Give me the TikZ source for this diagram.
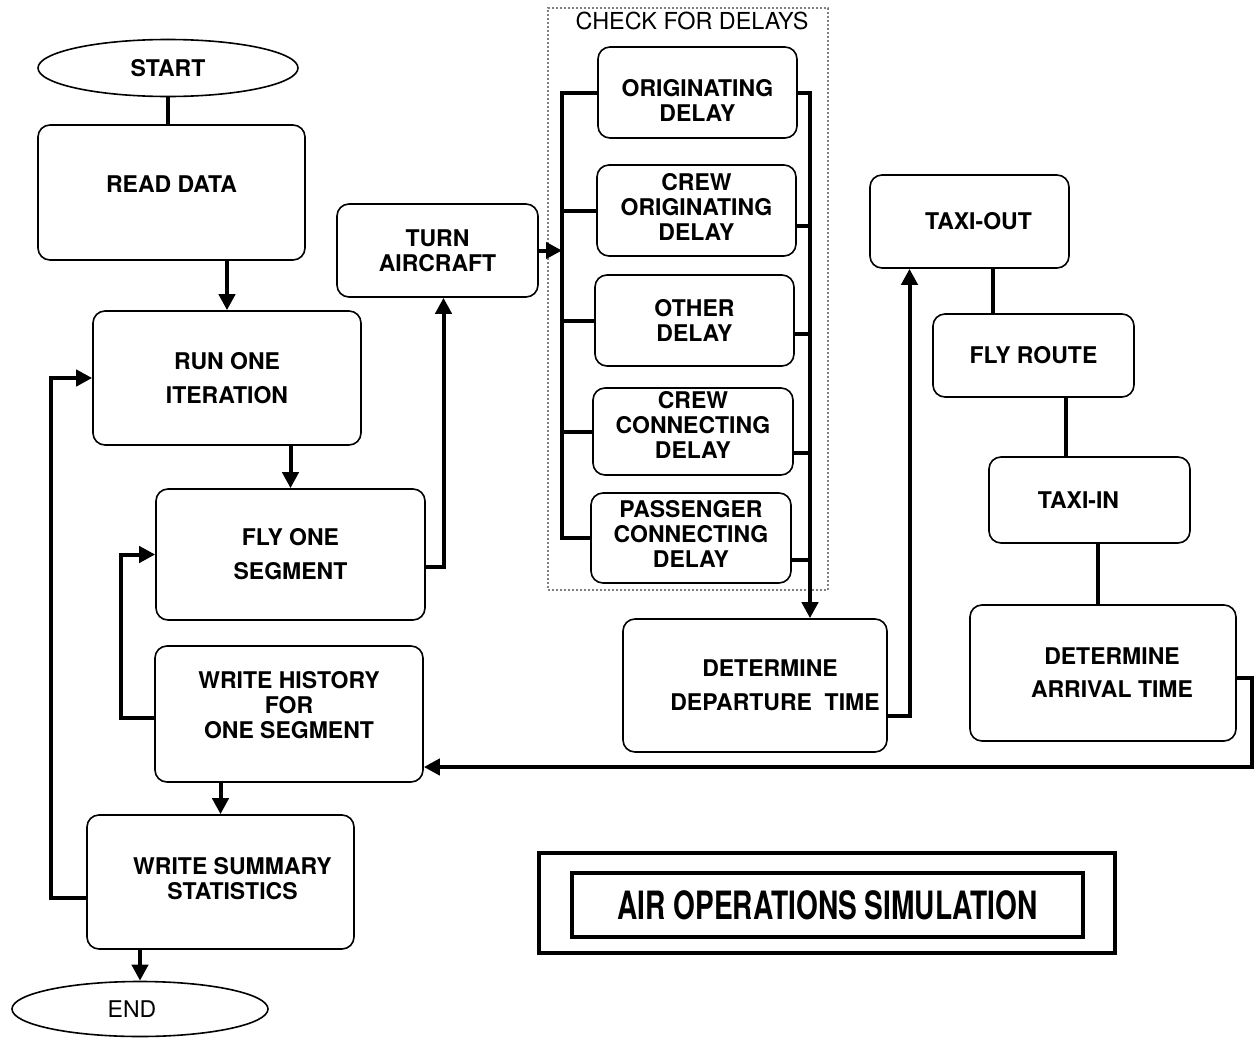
\documentclass[tikz,border=0pt]{standalone}
\usepackage{graphicx}
\usepackage{fontspec}
\setmainfont{TeX Gyre Heros}
\usetikzlibrary{shapes.geometric,arrows.meta,calc}
\begin{document}
\begin{tikzpicture}[x=0.5pt,y=-0.5pt,
  box/.style={draw, line width=0.8pt, rounded corners=6pt, align=center,
    font=\fontsize{11.5}{12.5}\selectfont\bfseries, inner sep=0pt},
  sz/.style 2 args={minimum width=#1*0.5pt, minimum height=#2*0.5pt},
  term/.style={draw, ellipse, line width=0.8pt, inner sep=0pt,
    font=\fontsize{11.5}{12.5}\selectfont},
  conn/.style={line width=2pt},
  arr/.style={conn, -{Triangle[length=8pt,width=8pt]}},
]
\useasboundingbox (0,0) rectangle (1260,1039);

% left column
\node[term, sz={260}{57}, font=\fontsize{11.5}{12.5}\selectfont\bfseries] (start) at (168,68) {START};
\node[box, sz={267}{135}, text depth=8pt] (read) at (171.5,192.5) {READ DATA};
\node[box, sz={268}{134}] (run) at (227,378) {RUN ONE\\[4.5pt]ITERATION};
\node[box, sz={269}{131}] (fly) at (290.5,554.5) {FLY ONE\\[4.5pt]SEGMENT};
\node[box, sz={268}{136}, text depth=9pt] (wh) at (289,714) {WRITE HISTORY\\FOR\hspace*{30pt}\\ONE SEGMENT};
\node[box, sz={267}{134}, text depth=4pt] (ws) at (220.5,882) {\hspace*{12pt}WRITE SUMMARY\\\hspace*{12pt}STATISTICS};
\node[term, sz={256}{55}] (end) at (140,1009) {END\hspace*{8pt}};

% turn aircraft
\node[box, sz={201}{93}] (turn) at (437.5,250.5) {TURN\\AIRCRAFT};

% delays group
\node[draw=gray, densely dotted, line width=1pt, sz={280}{582}, inner sep=0pt] (frame) at (688,299) {};
\node[font=\fontsize{11.7}{13}\selectfont, inner sep=1pt] (checkt) at (692,21) {CHECK FOR DELAYS};
\node[box, sz={199}{91}] (orig) at (697.5,92.5) {\rule{0pt}{16pt}ORIGINATING\\DELAY};
\node[box, sz={199}{91}, text depth=4pt] (corig) at (696.5,210.5) {CREW\\ORIGINATING\\DELAY};
\node[box, sz={199}{91}] (other) at (694.5,320.5) {OTHER\\DELAY};
\node[box, sz={200}{87}, text depth=7pt] (cconn) at (693,431.5) {CREW\\CONNECTING\\DELAY};
\node[box, sz={200}{90}, text depth=4pt] (pass) at (691,538) {PASSENGER\\CONNECTING\\DELAY};

% right part
\node[box, sz={264}{133}] (dd) at (755,685.5) {\hspace*{15pt}DETERMINE\\[4.5pt]\hspace*{20pt}DEPARTURE\ \ TIME};
\node[box, sz={199}{93}] (tout) at (969.5,221.5) {\hspace*{9pt}TAXI-OUT};
\node[box, sz={201}{83}] (fr) at (1033.5,355.5) {FLY ROUTE};
\node[box, sz={201}{86}] (tin) at (1089.5,500) {TAXI-IN\hspace*{11pt}};
\node[box, sz={266}{136}] (dat) at (1103,673) {\hspace*{9pt}DETERMINE\\[4pt]\hspace*{9pt}ARRIVAL TIME};

% title
\node[draw, line width=1.6pt, sz={576}{100}, inner sep=0pt] (tframe) at (827,903) {};
\node[draw, line width=1.6pt, sz={511}{64}, inner sep=0pt,
  font=\fontsize{19.5}{22}\selectfont\bfseries] (title) at (827.5,905)
  {\scalebox{0.72}[1]{AIR OPERATIONS SIMULATION}};

% helper coordinates
\coordinate (lbus) at (562,0);
\coordinate (rbus) at (810,0);
\coordinate (c1) at (993,0);
\coordinate (c2) at (1066,0);
\coordinate (c3) at (1098,0);

% left column connectors
\draw[conn] (start.south) -- (start.south |- read.north);
\draw[arr] (run.north |- read.south) -- (run.north);
\draw[arr] (fly.north |- run.south) -- (fly.north);
\draw[arr] (ws.north |- wh.south) -- (ws.north);
\draw[arr] (end.north |- ws.south) -- (end.north);
\draw[arr] ($(ws.west)+(0,16)$) -- ++(-35,0) |- (run.west);
\draw[arr] ($(wh.west)+(0,4)$) -- ++(-33,0) |- (fly.west);
\draw[arr] ($(fly.east)+(0,12)$) -| ($(turn.south)+(6,0)$);

% delays buses
\draw[arr] (turn.east) -- (turn.east -| lbus);
\draw[conn] (orig.west) -- (orig.west -| lbus) -- (pass.west -| lbus) -- (pass.west);
\foreach \b in {corig,other,cconn} \draw[conn] (\b.west -| lbus) -- (\b.west);
\draw[arr] (orig.east) -| (dd.north -| rbus);
\coordinate (r2) at ($(corig.east)+(0,15)$);
\coordinate (r3) at ($(other.east)+(0,13)$);
\coordinate (r4) at ($(cconn.east)+(0,21)$);
\coordinate (r5) at ($(pass.east)+(0,22)$);
\foreach \r in {r2,r3,r4,r5} \draw[conn] (\r) -- (\r -| rbus);

% right column connectors
\coordinate (d1) at ($(dd.east)+(0,30)$);
\draw[arr] (d1) -| ($(tout.south)+(-60,0)$);
\draw[conn] (c1 |- tout.south) -- (c1 |- fr.north);
\draw[conn] (c2 |- fr.south) -- (c2 |- tin.north);
\draw[conn] (c3 |- tin.south) -- (c3 |- dat.north);
\coordinate (a1) at ($(dat.east)+(0,5)$);
\draw[arr] (a1) -- ++(15,0) |- ($(wh.east)+(0,53)$);
\end{tikzpicture}
\end{document}
